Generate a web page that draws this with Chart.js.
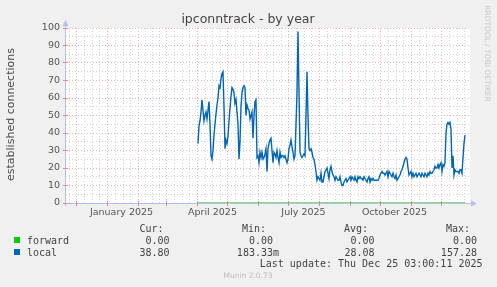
<!DOCTYPE html>
<html>
<head>
<meta charset="utf-8">
<script src="https://cdn.jsdelivr.net/npm/chart.js@4"></script>
<style>
  html, body { margin: 0; padding: 0; background: #f0f0f0; }
</style>
</head>
<body>
<canvas id="myChart" width="497" height="287"></canvas>
<script>
// days are counted from Jan 1 2025 (day 0)
const xLabelDays = [14.5, 105.5, 196.5, 287.5];
const xLabels = ['January 2025', 'April 2025', 'July 2025', 'October 2025'];
const monthStartDays = [-61, -31, 0, 31, 59, 90, 120, 151, 181, 212, 243, 273, 304, 334, 365];

const forwardDays = [91, 358];
const forwardValues = [0, 0];

// one sample per day, starting at localStartDay
const localStartDay = 91;
const localValues = [
  34, 44, 47, 52, 59, 53, 47, 50, 52, 48, 53, 58, 45, 27, 25, 30, 39, 45, 51, 56,
  60, 67, 66, 71, 74, 75, 55, 31, 36, 34, 38, 47, 54, 61, 66, 65, 63, 57, 59, 52,
  45, 25, 35, 55, 63, 66, 67, 66, 50, 56, 54, 53, 48, 50, 52, 37, 50, 58, 59, 26,
  27, 23, 29, 26, 29, 25, 26, 28, 31, 18, 31, 34, 36, 37, 30, 23, 29, 28, 26, 30,
  26, 23, 29, 26, 27, 27, 26, 27, 25, 23, 25, 31, 33, 36, 32, 29, 25, 27, 45, 63,
  98, 63, 29, 27, 26, 27, 28, 27, 50, 75, 49, 31, 30, 31, 29, 26, 25, 22, 18, 13,
  15, 14, 13, 17, 12, 12, 15, 18, 19, 20, 17, 14, 19, 21, 18, 16, 15, 13, 15, 14,
  13, 13, 15, 12, 10, 10, 12, 13, 14, 12, 13, 14, 15, 13, 15, 14, 13, 15, 13, 12,
  15, 14, 15, 14, 14, 13, 15, 14, 13, 12, 14, 15, 12, 14, 13, 14, 13, 13, 13, 13,
  13, 14, 16, 17, 18, 17, 17, 16, 17, 18, 15, 18, 17, 16, 15, 17, 15, 14, 16, 13,
  14, 15, 16, 18, 19, 21, 23, 25, 26, 25, 20, 16, 17, 18, 15, 17, 15, 16, 17, 15,
  16, 17, 16, 15, 17, 16, 15, 17, 16, 15, 17, 16, 18, 17, 17, 18, 19, 21, 20, 20,
  22, 20, 22, 23, 18, 22, 21, 23, 40, 45, 46, 45, 46, 42, 20, 27, 16, 19, 18, 18,
  18, 17, 19, 19, 17, 26, 34, 38.8
];

const legendNames = ['forward', 'local'];
const legendColors = ['#00cc00', '#0066b3'];
const legendHeads = ['Cur:', 'Min:', 'Avg:', 'Max:'];
const legendCur = ['0.00 ', '38.80 '];
const legendMin = ['0.00 ', '183.33m'];
const legendAvg = ['0.00 ', '28.08 '];
const legendMax = ['0.00 ', '157.28 '];

const AXIS = '#b8bdf0';

const munin = {
  id: 'munin',
  beforeDraw(chart) {
    const { ctx, chartArea: a } = chart;
    const xs = chart.scales.x, ys = chart.scales.y;
    ctx.save();
    ctx.fillStyle = '#f0f0f0';
    ctx.fillRect(0, 0, chart.width, chart.height);
    ctx.fillStyle = '#ffffff';
    ctx.fillRect(a.left, a.top, a.right - a.left, a.bottom - a.top);

    ctx.lineWidth = 1;
    ctx.setLineDash([1, 2]);
    // minor grid
    ctx.strokeStyle = '#d2d2d2';
    for (let v = 5; v < 100; v += 10) {
      const y = Math.floor(ys.getPixelForValue(v)) + 0.5;
      ctx.beginPath(); ctx.moveTo(a.left, y); ctx.lineTo(a.right, y); ctx.stroke();
    }
    for (let i = 0; i < monthStartDays.length - 1; i++) {
      const m0 = monthStartDays[i], len = monthStartDays[i + 1] - m0;
      for (let k = 1; k < 4; k++) {
        const d = Math.round(m0 + len * k / 4);
        if (d <= xs.min || d >= xs.max) continue;
        const x = Math.floor(xs.getPixelForValue(d)) + 0.5;
        ctx.beginPath(); ctx.moveTo(x, a.top); ctx.lineTo(x, a.bottom); ctx.stroke();
      }
    }
    // major grid
    ctx.strokeStyle = '#efb0b0';
    for (let v = 10; v <= 100; v += 10) {
      const y = Math.floor(ys.getPixelForValue(v)) + 0.5;
      ctx.beginPath(); ctx.moveTo(a.left, y); ctx.lineTo(a.right, y); ctx.stroke();
    }
    monthStartDays.forEach(d => {
      if (d <= xs.min || d >= xs.max) return;
      const x = Math.floor(xs.getPixelForValue(d)) + 0.5;
      ctx.beginPath(); ctx.moveTo(x, a.top); ctx.lineTo(x, a.bottom); ctx.stroke();
    });
    ctx.setLineDash([]);

    // axes
    ctx.strokeStyle = AXIS;
    ctx.beginPath();
    ctx.moveTo(a.left - 0.5, a.bottom + 3); ctx.lineTo(a.left - 0.5, a.top - 3);
    ctx.moveTo(a.left - 3, a.bottom + 0.5); ctx.lineTo(a.right + 2, a.bottom + 0.5);
    ctx.stroke();
    ctx.fillStyle = AXIS;
    ctx.beginPath();
    ctx.moveTo(a.left - 0.5, a.top - 8); ctx.lineTo(a.left - 3.5, a.top - 2); ctx.lineTo(a.left + 2.5, a.top - 2);
    ctx.fill();
    ctx.beginPath();
    ctx.moveTo(a.right + 7, a.bottom + 0.5); ctx.lineTo(a.right + 1, a.bottom - 2.5); ctx.lineTo(a.right + 1, a.bottom + 3.5);
    ctx.fill();

    // tick marks
    ctx.strokeStyle = '#e88888';
    ctx.beginPath();
    for (let v = 0; v <= 100; v += 10) {
      const y = Math.floor(ys.getPixelForValue(v)) + 0.5;
      ctx.moveTo(a.left - 3, y); ctx.lineTo(a.left + 2, y);
    }
    monthStartDays.forEach(d => {
      if (d <= xs.min || d >= xs.max) return;
      const x = Math.floor(xs.getPixelForValue(d)) + 0.5;
      ctx.moveTo(x, a.bottom - 2); ctx.lineTo(x, a.bottom + 3);
    });
    ctx.stroke();
    ctx.restore();
  },
  afterDraw(chart) {
    const { ctx } = chart;
    ctx.save();
    // title
    ctx.fillStyle = '#444';
    ctx.font = '12.5px "DejaVu Sans"';
    ctx.textAlign = 'center';
    ctx.textBaseline = 'alphabetic';
    ctx.fillText('ipconntrack - by year', 248, 22.5);

    // y axis title
    ctx.save();
    ctx.translate(11.5, 114.5);
    ctx.rotate(-Math.PI / 2);
    ctx.font = '11px "DejaVu Sans"';
    ctx.fillStyle = '#4a4a4a';
    ctx.textBaseline = 'middle';
    ctx.fillText('established connections', 0, 0);
    ctx.restore();

    // rrdtool watermark
    ctx.save();
    ctx.translate(487, 53.5);
    ctx.rotate(Math.PI / 2);
    ctx.font = '7.5px "DejaVu Sans"';
    ctx.fillStyle = '#c8c8c8';
    ctx.textBaseline = 'middle';
    ctx.fillText('RRDTOOL / TOBI OETIKER', 0, 0);
    ctx.restore();

    // legend
    ctx.font = '10px "DejaVu Sans Mono"';
    ctx.fillStyle = '#444';
    ctx.textAlign = 'right';
    const headX = [163.5, 266, 368, 470];
    const colX = [175.5, 279, 380.5, 483];
    legendHeads.forEach((h, i) => ctx.fillText(h, headX[i], 232));
    const rows = [243.5, 255.5];
    legendNames.forEach((n, r) => {
      ctx.fillStyle = legendColors[r];
      ctx.fillRect(14, rows[r] - 6.5, 6, 6);
      ctx.fillStyle = '#444';
      ctx.textAlign = 'left';
      ctx.fillText(n, 27, rows[r]);
      ctx.textAlign = 'right';
      [legendCur, legendMin, legendAvg, legendMax].forEach((col, c) => ctx.fillText(col[r], colX[c], rows[r]));
    });
    ctx.fillText('Last update: Thu Dec 25 03:00:11 2025', 482.5, 267);

    ctx.font = '7.5px "DejaVu Sans"';
    ctx.fillStyle = '#bbb';
    ctx.textAlign = 'center';
    ctx.textBaseline = 'middle';
    ctx.fillText('Munin 2.0.73', 248, 276);
    ctx.restore();
  }
};

const ctx = document.getElementById('myChart');

new Chart(ctx, {
  type: 'line',
  data: {
    datasets: [{
      label: 'forward',
      data: forwardDays.map((d, i) => ({ x: d, y: forwardValues[i] })),
      borderColor: '#00cc00',
      borderWidth: 1,
      pointRadius: 0,
      tension: 0
    }, {
      label: 'local',
      data: localValues.map((v, i) => ({ x: localStartDay + i, y: v })),
      borderColor: '#0066b3',
      borderWidth: 1.4,
      pointRadius: 0,
      tension: 0
    }]
  },
  options: {
    responsive: false,
    animation: false,
    devicePixelRatio: 1,
    layout: { padding: { left: 26, right: 27, top: 28, bottom: 68 } },
    plugins: {
      legend: { display: false },
      title: { display: false },
      tooltip: { enabled: false }
    },
    scales: {
      x: {
        type: 'linear',
        min: -41,
        max: 363,
        grid: { display: false, drawTicks: false },
        border: { display: false },
        afterBuildTicks: s => { s.ticks = xLabelDays.map(v => ({ value: v })); },
        afterFit: s => { s.height = 16; },
        ticks: {
          autoSkip: false,
          maxRotation: 0,
          padding: 4,
          color: '#555',
          font: { family: 'DejaVu Sans', size: 9.5 },
          callback: (v, i) => xLabels[i]
        }
      },
      y: {
        min: 0,
        max: 100,
        grid: { display: false, drawTicks: false },
        border: { display: false },
        afterFit: s => { s.width = 40; },
        ticks: {
          stepSize: 10,
          padding: 6,
          color: '#555',
          font: { family: 'DejaVu Sans', size: 9.5 }
        }
      }
    }
  },
  plugins: [munin]
});
</script>
</body>
</html>
